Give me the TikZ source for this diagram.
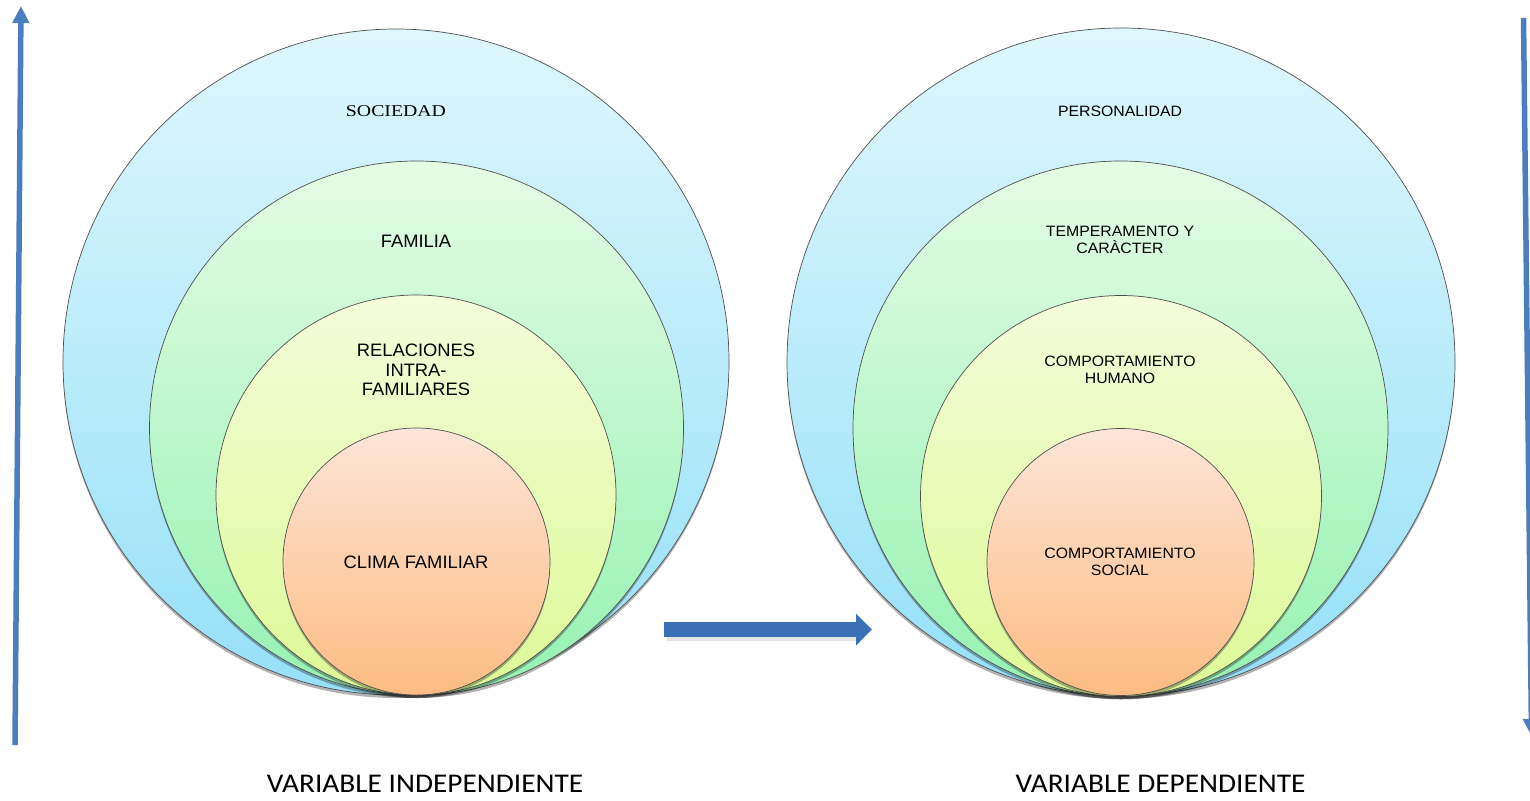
\documentclass[tikz,border=0pt]{standalone}
\usepackage{fontspec}
\setmainfont{Liberation Sans}
\newfontfamily\arialL[FakeStretch=1.02]{Liberation Sans}
\newfontfamily\arialR[FakeStretch=1.055]{Liberation Sans}
\newfontfamily\tnrf[FakeStretch=1.2]{Liberation Serif}
\newfontfamily\calibf[FakeStretch=1.087]{Carlito}
\usetikzlibrary{arrows.meta}
\definecolor{aaTop}{RGB}{222,247,253}
\definecolor{aaBot}{RGB}{150,224,248}
\definecolor{bbTop}{RGB}{228,252,228}
\definecolor{bbBot}{RGB}{150,242,178}
\definecolor{ccTop}{RGB}{244,252,218}
\definecolor{ccBot}{RGB}{220,250,150}
\definecolor{ddTop}{RGB}{253,229,216}
\definecolor{ddBot}{RGB}{253,188,130}
\definecolor{arrBlue}{RGB}{74,126,191}
\definecolor{midBlue}{RGB}{58,112,182}
\definecolor{ringLine}{RGB}{80,80,80}
\tikzset{
  ring/.style={circle, inner sep=0pt, draw=ringLine, line width=0.7pt},
  ringA/.style={ring, top color=aaTop, bottom color=aaBot},
  ringB/.style={ring, top color=bbTop, bottom color=bbBot},
  ringC/.style={ring, top color=ccTop, bottom color=ccBot},
  ringD/.style={ring, top color=ddTop, bottom color=ddBot},
  shadowc/.style={fill=black, opacity=0.3},
  lblL/.style={align=center, inner sep=0pt, font=\arialL\fontsize{18}{19.5}\selectfont},
  lblR/.style={align=center, inner sep=0pt, font=\arialR\fontsize{15}{17}\selectfont},
  lblS/.style={align=center, inner sep=0pt, font=\tnrf\fontsize{16.5}{20}\selectfont},
  lblB/.style={align=center, inner sep=0pt, font=\calibf\fontsize{27}{30}\selectfont},
  sidearrow/.style={draw=arrBlue, line width=5.5pt, -{Triangle[width=16pt,length=17pt]}, arrBlue},
  midarrow/.style={draw=midBlue, line width=15pt, -{Triangle[width=31pt,length=16pt]}, midBlue},
}
\begin{document}
\begin{tikzpicture}[x=1pt,y=-1pt]
\useasboundingbox (0,0) rectangle (1530,800);
% ---- left set of circles
\fill[shadowc] (396,365) circle (333);
\node[ringA, minimum size=666pt] (lA) at (396,362) {};
\fill[shadowc] (416.5,431) circle (267);
\node[ringB, minimum size=534pt] (lB) at (416.5,428) {};
\fill[shadowc] (416,498) circle (200);
\node[ringC, minimum size=400pt] (lC) at (416,495) {};
\fill[shadowc] (416.5,564.5) circle (133.5);
\node[ringD, minimum size=267pt] (lD) at (416.5,561.5) {};
% ---- right set of circles
\fill[shadowc] (1121,365) circle (334);
\node[ringA, minimum size=668pt] (rA) at (1121,362) {};
\fill[shadowc] (1120.5,431.5) circle (267.5);
\node[ringB, minimum size=535pt] (rB) at (1120.5,428.5) {};
\fill[shadowc] (1121,499) circle (200.5);
\node[ringC, minimum size=401pt] (rC) at (1121,496) {};
\fill[shadowc] (1120.5,565) circle (133.5);
\node[ringD, minimum size=267pt] (rD) at (1120.5,562) {};
% ---- labels
\node[lblS] (tSoc) at (396,111) {SOCIEDAD};
\node[lblL] (tFam) at (416,241) {FAMILIA};
\node[lblL] (tRel) at (416,370) {RELACIONES\\INTRA-\\FAMILIARES};
\node[lblL] (tClima) at (416,562) {CLIMA FAMILIAR};
\node[lblR] (tPers) at (1120,111) {PERSONALIDAD};
\node[lblR] (tTemp) at (1120,240) {TEMPERAMENTO Y\\CAR\`ACTER};
\node[lblR] (tHum) at (1120,369.5) {COMPORTAMIENTO\\HUMANO};
\node[lblR] (tSoc2) at (1120,561.5) {COMPORTAMIENTO\\SOCIAL};
\node[lblB] (tInd) at (425,784) {VARIABLE INDEPENDIENTE};
\node[lblB] (tDep) at (1160.5,784) {VARIABLE DEPENDIENTE};
% ---- arrows
\coordinate (lStart) at (15,745);
\coordinate (lEnd) at (21,6);
\draw[sidearrow] (lStart) -- (lEnd);
\coordinate (rStart) at (1523.5,18);
\coordinate (rEnd) at (1531.5,736);
\draw[sidearrow] (rStart) -- (rEnd);
\coordinate (mStart) at (664,629.5);
\coordinate (mEnd) at (872,629.5);
\fill[black, opacity=0.1] (667,634) rectangle (858,641);
\draw[midarrow] (mStart) -- (mEnd);
\end{tikzpicture}
\end{document}
